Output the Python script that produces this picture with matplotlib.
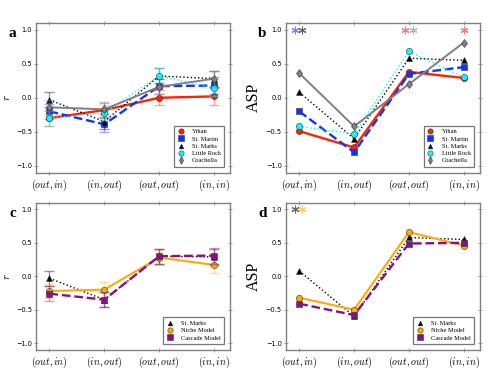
import numpy as np
import matplotlib
matplotlib.use("Agg")
import matplotlib.pyplot as plt

plt.rcParams['mathtext.fontset'] = 'cm'

cats = [r'$(out,in)$', r'$(in,out)$', r'$(out,out)$', r'$(in,in)$']

# panel a: correlation r, real webs
r_ythan = [-0.30, -0.18, 0.00, 0.02]
r_martin = [-0.20, -0.39, 0.17, 0.18]
r_marks = [-0.03, -0.35, 0.32, 0.28]
r_rock = [-0.30, -0.22, 0.32, 0.15]
r_coach = [-0.14, -0.17, 0.16, 0.28]
r_err = [0.11, 0.11, 0.11, 0.12]

# panel b: ASP, real webs
asp_ythan = [-0.49, -0.73, 0.38, 0.29]
asp_martin = [-0.20, -0.80, 0.35, 0.45]
asp_marks = [0.08, -0.60, 0.58, 0.55]
asp_rock = [-0.42, -0.53, 0.68, 0.30]
asp_coach = [0.36, -0.42, 0.20, 0.81]

# panel c: r, models
rc_marks = [-0.03, -0.35, 0.30, 0.29]
rc_niche = [-0.22, -0.20, 0.28, 0.17]
rc_casc = [-0.26, -0.35, 0.30, 0.31]

# panel d: ASP, models
aspd_marks = [0.08, -0.60, 0.58, 0.55]
aspd_niche = [-0.32, -0.50, 0.66, 0.46]
aspd_casc = [-0.41, -0.58, 0.49, 0.50]

c_red = '#ff2200'
c_blue = '#1133ff'
c_black = 'black'
c_cyan = 'cyan'
c_gray = 'gray'
c_orange = '#ffaa00'
c_purple = '#881188'

styles_real = [
    ('Ythan', c_red, 'o', '-', 1.7),
    ('St. Martin', c_blue, 's', '--', 1.7),
    ('St. Marks', c_black, '^', ':', 1.0),
    ('Little Rock', c_cyan, 'o', ':', 1.0),
    ('Coachella', c_gray, 'd', '-', 1.4),
]
styles_model = [
    ('St. Marks', c_black, '^', ':', 1.0),
    ('Niche Model', c_orange, 'o', '-', 1.5),
    ('Cascade Model', c_purple, 's', '--', 1.7),
]

x = np.arange(4)

fig = plt.figure(figsize=(4.94, 3.71), dpi=100)
w, h = 0.393, 0.404
axa = fig.add_axes([0.0723, 0.5345, w, h])
axb = fig.add_axes([0.578, 0.5345, w, h])
axc = fig.add_axes([0.0723, 0.057, w, 0.3966])
axd = fig.add_axes([0.578, 0.057, w, 0.3966])


def setup(ax, letter, ylab, big):
    ax.set_xlim(-0.25, 3.29)
    ax.set_ylim(-1.1, 1.1)
    ax.set_yticks([-1.0, -0.5, 0.0, 0.5, 1.0])
    ax.set_yticklabels(['\u22121.0', '\u22120.5', '0.0', '0.5', '1.0'], fontsize=4.8)
    ax.set_xticks(x)
    ax.set_xticklabels(cats, fontsize=7.2)
    ax.tick_params(direction='inout', top=True, right=True, length=3, width=0.5,
                   color='gray')
    ax.tick_params(axis='x', pad=1.8)
    ax.tick_params(axis='y', pad=1.2)
    for s in ax.spines.values():
        s.set_color('gray')
        s.set_linewidth(1.0)
    if big:
        ax.set_ylabel(ylab, fontsize=11.5, family='Liberation Serif', labelpad=3)
    else:
        ax.set_ylabel(ylab, fontsize=8, labelpad=2.5)
    ax.text(-0.12, 0.93, letter, transform=ax.transAxes, fontsize=11,
            fontweight='bold', family='Liberation Serif', va='center', ha='center')


def draw(ax, series, styles, err=None):
    for ys, (lab, col, mk, ls, lw) in zip(series, styles):
        if err is not None:
            ax.errorbar(x, ys, yerr=err, fmt='none', ecolor=col, alpha=0.4,
                        capsize=3.6, elinewidth=1.0, capthick=1.0)
        ms = 4.5 if mk != '^' else 4
        ax.plot(x, ys, color=col, ls=ls, lw=lw, marker=mk, ms=ms,
                mec='#333333', mew=0.4, label=lab)
    leg = ax.legend(loc='lower right', prop={'family': 'Liberation Serif', 'size': 4.6},
                    numpoints=1, handlelength=1.0, handletextpad=1.3,
                    borderpad=0.5, labelspacing=0.28, fancybox=False,
                    markerscale=0.85, bbox_to_anchor=(0.988, 0.02))
    fr = leg.get_frame()
    fr.set_edgecolor('#555555')
    fr.set_linewidth(0.9)
    for ln in leg.get_lines():
        ln.set_linestyle('')


def stars(ax, xs, cols):
    for xx, cc in zip(xs, cols):
        ax.plot(xx, 1.0, marker=(6, 2, 0), ms=5.5, color=cc, mew=0.8, alpha=0.6,
                clip_on=False)


setup(axa, 'a', r'$r$', False)
draw(axa, [r_ythan, r_martin, r_marks, r_rock, r_coach], styles_real, r_err)

setup(axb, 'b', 'ASP', True)
draw(axb, [asp_ythan, asp_martin, asp_marks, asp_rock, asp_coach], styles_real)
stars(axb, [-0.08, 0.05, 1.93, 2.07, 3.0], [c_blue, c_black, c_red, c_gray, c_red])

setup(axc, 'c', r'$r$', False)
draw(axc, [rc_marks, rc_niche, rc_casc], styles_model, r_err)

setup(axd, 'd', 'ASP', True)
draw(axd, [aspd_marks, aspd_niche, aspd_casc], styles_model)
stars(axd, [-0.08, 0.05], [c_black, c_orange])

fig.savefig('out.png', dpi=100)
